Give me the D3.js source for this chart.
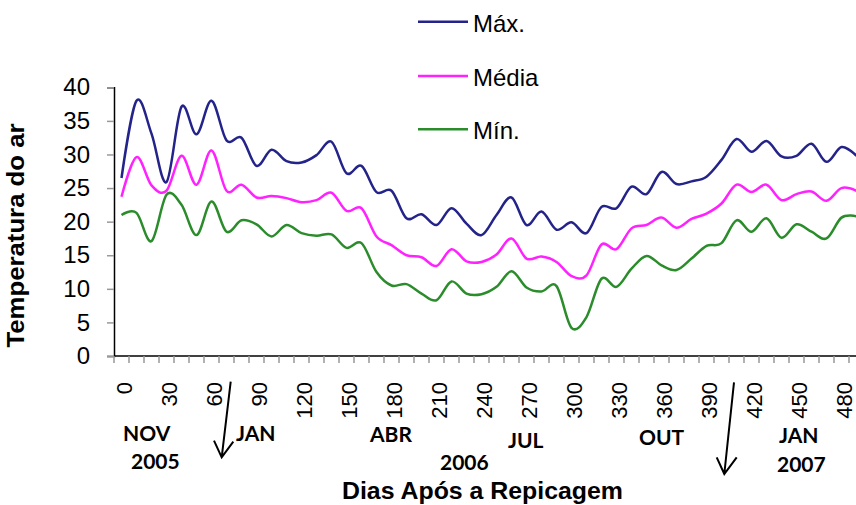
<!DOCTYPE html>
<html>
<head>
<meta charset="utf-8">
<script src="https://d3js.org/d3.v7.min.js"></script>
<style>
  body { margin: 0; background: #fff; }
  svg { display: block; font-family: "Liberation Sans", Arial, sans-serif; }
</style>
</head>
<body>
<div id="chart"></div>
<script>
// days after transplanting (one category every 10 days)
var days = [0, 10, 20, 30, 40, 50, 60, 70, 80, 90,
            100, 110, 120, 130, 140, 150, 160, 170, 180, 190,
            200, 210, 220, 230, 240, 250, 260, 270, 280, 290,
            300, 310, 320, 330, 340, 350, 360, 370, 380, 390,
            400, 410, 420, 430, 440, 450, 460, 470, 480, 490];

var maxT = [26.5, 38.0, 33.1, 25.9, 37.1, 33.0, 38.0, 32.1, 32.5, 28.3,
            30.7, 29.0, 28.8, 29.9, 31.9, 27.2, 28.3, 24.4, 24.6, 20.5,
            21.1, 19.5, 22.0, 19.7, 18.0, 21.0, 23.6, 19.5, 21.5, 18.8,
            19.9, 18.3, 22.2, 22.0, 25.2, 24.1, 27.4, 25.6, 26.0, 26.7,
            29.2, 32.3, 30.4, 32.0, 29.7, 29.8, 31.6, 28.9, 31.1, 29.8];

var meanT = [23.7, 29.6, 25.4, 24.6, 29.8, 25.5, 30.6, 24.6, 25.5, 23.6,
             23.8, 23.5, 22.9, 23.2, 24.3, 21.6, 22.0, 17.8, 16.5, 15.0,
             14.7, 13.4, 15.9, 14.1, 14.0, 15.1, 17.5, 14.5, 14.8, 14.0,
             11.9, 12.0, 16.6, 15.9, 19.0, 19.5, 20.6, 19.1, 20.4, 21.2,
             22.7, 25.5, 24.4, 25.5, 23.2, 24.1, 24.5, 23.1, 25.0, 24.6];

var minT = [21.0, 21.3, 17.1, 24.0, 22.5, 18.0, 23.0, 18.5, 20.2, 19.6,
            17.8, 19.5, 18.3, 17.9, 18.1, 16.1, 16.8, 12.5, 10.5, 10.7,
            9.3, 8.3, 11.1, 9.3, 9.2, 10.3, 12.6, 10.2, 9.6, 10.4,
            4.2, 5.8, 11.5, 10.3, 13.0, 14.9, 13.5, 12.8, 14.5, 16.4,
            16.8, 20.2, 18.5, 20.5, 17.6, 19.6, 18.5, 17.5, 20.6, 20.8];

var seriesNames = ["Máx.", "Média", "Mín."];
var seriesColors = ["#23238a", "#ff22ff", "#2b8c2b"];

var xTickDays = [0, 30, 60, 90, 120, 150, 180, 210, 240, 270, 300, 330, 360, 390, 420, 450, 480];
var yTicks = [0, 5, 10, 15, 20, 25, 30, 35, 40];

// month / year notes under the axis
var notes = [
  {t: "NOV", x: 123, y: 441}, {t: "2005", x: 131, y: 469},
  {t: "JAN", x: 236, y: 441}, {t: "ABR", x: 370, y: 442},
  {t: "JUL", x: 508, y: 448}, {t: "2006", x: 440, y: 470},
  {t: "OUT", x: 639, y: 445}, {t: "JAN", x: 779, y: 443},
  {t: "2007", x: 777, y: 472}
];

function init(){
    var w = 856;
    var h = 505;
    var left = 114;
    var bottom = 356;
    var top = 87.3;

    var svg = d3.select("#chart")
      .append("svg")
      .attr("width", w)
      .attr("height", h);

    var xScale = d3.scaleBand()
      .domain(days)
      .range([left, left + 15 * days.length])
      .padding(0);

    var yScale = d3.scaleLinear()
      .domain([0, 40])
      .range([bottom, top]);

    var xc = function(d){ return xScale(d) + xScale.bandwidth() / 2; };

    // y axis
    var yAxis = d3.axisLeft(yScale)
      .tickValues(yTicks)
      .tickSize(7)
      .tickPadding(17)
      .tickFormat(d3.format("d"));

    var gy = svg.append("g")
      .attr("transform", "translate(" + left + ",0)")
      .call(yAxis);
    gy.select(".domain").attr("stroke", "#000").attr("stroke-width", 1.5);
    gy.selectAll(".tick line").attr("stroke", "#999").attr("stroke-width", 1.5);
    gy.selectAll(".tick text")
      .attr("font-size", 24)
      .attr("font-family", "Liberation Sans, Arial, sans-serif")
      .attr("fill", "#000");

    // x axis line + tick marks between categories
    svg.append("line")
      .attr("x1", left).attr("x2", w)
      .attr("y1", bottom).attr("y2", bottom)
      .attr("stroke", "#000")
      .attr("stroke-width", 1.5);

    svg.selectAll(".xtick")
      .data(days)
      .enter()
      .append("line")
      .attr("class", "xtick")
      .attr("x1", function(d){ return xScale(d); })
      .attr("x2", function(d){ return xScale(d); })
      .attr("y1", bottom)
      .attr("y2", bottom + 7)
      .attr("stroke", "#999")
      .attr("stroke-width", 1.5);

    svg.selectAll(".xlab")
      .data(xTickDays)
      .enter()
      .append("text")
      .attr("class", "xlab")
      .attr("transform", function(d){
        return "translate(" + (xc(d) + 2.5) + "," + 382 + ") rotate(-90)";
      })
      .attr("text-anchor", "end")
      .attr("dy", "0.35em")
      .attr("font-size", 22)
      .text(function(d){ return d; });

    // lines
    var line = d3.line()
      .x(function(d, i){ return xc(days[i]); })
      .y(function(d){ return yScale(d); })
      .curve(d3.curveCardinal.tension(0));

    var allSeries = [maxT, meanT, minT];

    svg.selectAll(".series")
      .data(allSeries)
      .enter()
      .append("path")
      .attr("class", "series")
      .attr("d", line)
      .attr("fill", "none")
      .attr("stroke", function(d, i){ return seriesColors[i]; })
      .attr("stroke-width", 2.5)
      .attr("stroke-linejoin", "round");

    // legend
    var lgY = [21.7, 76, 129.3];
    var lg = svg.selectAll(".lg")
      .data(seriesNames)
      .enter()
      .append("g")
      .attr("class", "lg")
      .attr("transform", function(d, i){ return "translate(0," + lgY[i] + ")"; });
    lg.append("line")
      .attr("x1", 418).attr("x2", 468)
      .attr("stroke", function(d, i){ return seriesColors[i]; })
      .attr("stroke-width", 2.5);
    lg.append("text")
      .attr("x", 473)
      .attr("y", 10)
      .attr("font-size", 24)
      .text(function(d){ return d; });

    // axis titles
    svg.append("text")
      .attr("transform", "translate(24,235.5) rotate(-90)")
      .attr("text-anchor", "middle")
      .attr("font-size", 23)
      .attr("font-weight", "bold")
      .attr("textLength", 224)
      .attr("lengthAdjust", "spacingAndGlyphs")
      .text("Temperatura do ar");

    svg.append("text")
      .attr("x", 342)
      .attr("y", 499)
      .attr("font-size", 23)
      .attr("font-weight", "bold")
      .attr("textLength", 281)
      .attr("lengthAdjust", "spacingAndGlyphs")
      .text("Dias Após a Repicagem");

    // month notes
    svg.selectAll(".note")
      .data(notes)
      .enter()
      .append("text")
      .attr("class", "note")
      .attr("x", function(d){ return d.x; })
      .attr("y", function(d){ return d.y; })
      .attr("font-family", "Lato, 'Open Sans', sans-serif")
      .attr("font-weight", "bold")
      .attr("font-size", 21)
      .text(function(d){ return d.t; });

    // arrows
    var arrows = [
      {x1: 230.7, y1: 381.7, x2: 221.7, y2: 457.3, w1: [214, 440.7], w2: [233.3, 441.7]},
      {x1: 734, y1: 382.3, x2: 724.3, y2: 474, w1: [716.7, 457.3], w2: [736.7, 457.3]}
    ];
    arrows.forEach(function(a){
      svg.append("path")
        .attr("d", "M" + a.x1 + "," + a.y1 + "L" + a.x2 + "," + a.y2 +
                   "M" + a.w1[0] + "," + a.w1[1] + "L" + a.x2 + "," + a.y2 +
                   "L" + a.w2[0] + "," + a.w2[1])
        .attr("fill", "none")
        .attr("stroke", "#000")
        .attr("stroke-width", 2);
    });
}

window.onload = init;
</script>
</body>
</html>
